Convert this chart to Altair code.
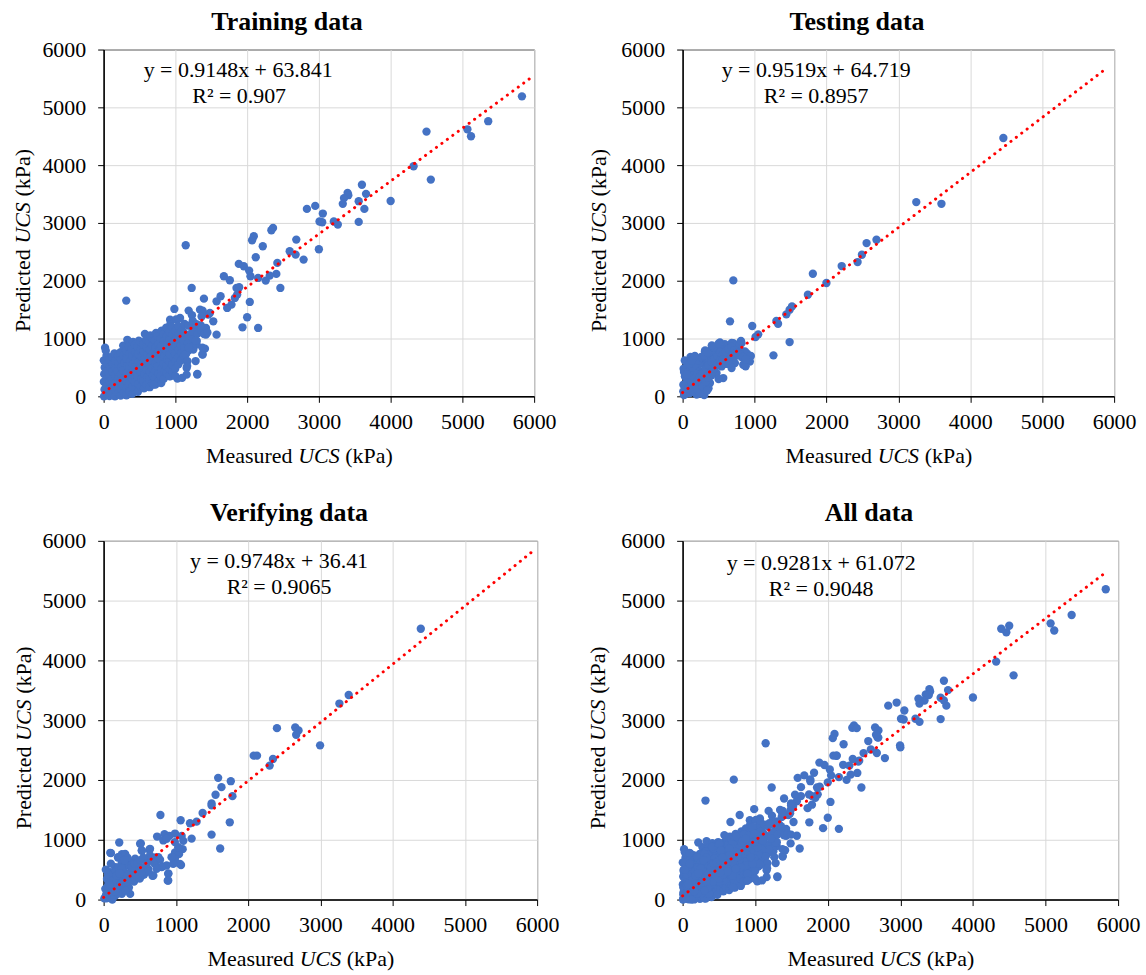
import altair as alt
import pandas as pd

# ---------------- data (kPa) ----------------
train_x = [5830, 5360, 5070, 5120, 4500, 4320, 4560, 4000, 3600, 3400, 3410, 3350, 3333, 3555, 3657,
           3634, 3555, 3208, 3264, 3009, 3046, 3055, 2949, 2833, 3000, 2685, 2593, 2676, 2787, 2361,
           2338, 2093, 2069, 2218, 2120, 2421, 2407, 2463, 2259, 2315, 2153, 2046, 1884, 1954, 2028,
           1852, 1889, 1759, 1676, 1227, 1144, 315, 2037, 2000, 1935, 2153, 1829, 1861, 1782, 1722,
           1630, 1574, 1398, 1574, 1426, 1528, 1481, 1458, 1306, 1028, 926, 1157, 1157, 986, 926,
           1065, 1185, 1231, 1343, 1380, 1287, 1426, 1380, 1412, 1250, 1296, 1194, 1102, 1056, 1148, 1167,
           # dense cluster
           5, 12, 3, 8, 15, 2, 20, 42, 38, 45, 35, 48, 40, 30, 82, 78, 85, 75, 88, 80, 118, 125, 115, 122,
           128, 120, 158, 165, 155, 162, 168, 160, 150, 205, 198, 202, 195, 208, 200, 238, 245, 235, 242,
           248, 240, 236, 282, 275, 285, 278, 288, 280, 272, 318, 325, 315, 322, 328, 320, 312, 330, 362,
           355, 365, 358, 368, 360, 352, 398, 405, 395, 402, 408, 400, 392, 410, 442, 435, 445, 438, 448,
           440, 432, 478, 485, 475, 482, 488, 480, 472, 490, 518, 525, 515, 522, 528, 520, 512, 562, 555,
           565, 558, 568, 560, 552, 575, 598, 605, 595, 602, 608, 600, 592, 642, 635, 645, 638, 648, 640,
           632, 650, 678, 685, 675, 682, 688, 680, 672, 722, 715, 725, 718, 728, 720, 712, 730, 758, 765,
           755, 762, 768, 760, 752, 802, 795, 805, 798, 808, 800, 792, 810, 838, 845, 835, 842, 848, 840,
           832, 882, 875, 885, 878, 888, 880, 872, 918, 925, 915, 922, 928, 920, 912, 930, 962, 955, 965,
           958, 968, 960, 952, 998, 1005, 995, 1002, 1008, 1000, 1010, 1042, 1035, 1045, 1038, 1048, 1040,
           1078, 1085, 1075, 1082, 1088, 1118, 1125, 1115, 1122, 1128, 1182, 1175, 1185, 1178, 1238, 1245,
           1235, 1242, 1298, 1305, 1295, 1362, 1355, 1365, 695, 1000, 1094, 1305, 1141, 1164, 1164, 1282,
           1376, 1376, 1188, 1282, 1399, 1446]
train_y = [5190, 4760, 4620, 4500, 4580, 3980, 3750, 3380, 3660, 3520, 3480, 3430, 3330, 3376, 3503,
           3243, 3018, 3024, 2972, 3024, 3012, 3162, 3295, 3243, 2545, 2712, 2510, 2452, 2366, 2914,
           2874, 2770, 2700, 2597, 2406, 2308, 2118, 1875, 2002, 2089, 2048, 2077, 2291, 2250, 2175,
           1875, 1887, 2008, 2077, 1875, 2614, 1656, 1633, 1368, 1194, 1183, 1702, 1760, 1587, 1529,
           1731, 1644, 1690, 1067, 1067, 1298, 1442, 1413, 387, 306, 346, 490, 375, 1512, 1327,
           1356, 1483, 1402, 1500, 1483, 1206, 1183, 721, 825, 808, 895, 923, 923, 1067, 733, 606,
           # dense cluster
           0, 118, 252, 384, 498, 622, 842, 58, 182, 305, 428, 560, 702, 790, 4, 132, 262, 388, 520, 640,
           38, 172, 300, 432, 558, 680, 2, 102, 228, 362, 488, 618, 742, 58, 182, 312, 438, 572, 700, 12,
           128, 252, 382, 508, 642, 762, 62, 188, 322, 452, 578, 702, 878, 18, 142, 268, 402, 532, 658,
           792, 978, 88, 222, 352, 482, 608, 742, 862, 42, 168, 302, 428, 562, 692, 818, 942, 122, 248,
           382, 512, 638, 772, 898, 78, 212, 342, 468, 602, 732, 858, 962, 172, 298, 432, 558, 692, 818,
           942, 138, 262, 388, 522, 648, 782, 898, 1078, 202, 328, 462, 588, 722, 852, 978, 158, 292, 418,
           552, 678, 812, 938, 1052, 228, 362, 488, 622, 748, 882, 1008, 202, 318, 452, 578, 712, 838, 972,
           1098, 262, 388, 522, 648, 782, 908, 1042, 228, 352, 478, 612, 738, 872, 998, 1138, 302, 428,
           562, 688, 822, 948, 1082, 398, 522, 648, 782, 908, 1042, 1188, 352, 468, 602, 728, 862, 988,
           1112, 1248, 422, 548, 682, 808, 942, 1068, 1202, 478, 612, 738, 872, 998, 1132, 1332, 552, 678,
           812, 938, 1072, 1218, 622, 748, 882, 1008, 1142, 702, 828, 962, 1098, 1252, 792, 918, 1052,
           1222, 852, 998, 1122, 1302, 958, 1082, 1248, 1122, 1228, 1382, 203, 349, 320, 378, 727, 610,
           523, 610, 727, 843, 843, 959, 1076, 1105]

test_x = [4460, 3249, 3599, 2558, 2696, 2493, 2433, 2212, 1811, 2000, 1742, 1521, 1488, 1442, 1304,
          1327, 1488, 1263, 968, 1014, 1051, 705, 659,
          519, 588, 704, 750, 819, 866, 912, 843, 935, 727, 773, 657, 565, 495, 403, 310, 380, 426,
          333, 241, 148, 79, 32, 56, 102, 195, 287, 380, 472, 542, 611, 681, 449, 264, 171, 9, 56, 125,
          195, 287, 357, 472, 565, 657, 796, 773, 889, 110, 14, 65, 428, 313, 406, 520, 949, 876, 498,
          682, 811, 20, 60, 100, 140, 180, 220, 260, 300, 340, 380, 420, 200, 150, 30, 90, 240, 320, 400,
          460, 500, 360, 260, 600, 640, 700, 740, 820, 160, 60, 10, 500,
          40, 80, 120, 160, 200, 240, 280, 320, 360, 400, 440, 480, 520, 560, 600, 640, 680, 720, 760,
          800, 840, 880, 100, 140, 180, 220, 260, 300, 340, 200, 240, 280, 320, 360, 400, 440, 480, 520,
          560, 600, 640, 680, 720, 300, 340, 20, 60, 90, 130, 170]
test_y = [4470, 3360, 3331, 2651, 2709, 2450, 2323, 2254, 2121, 1960, 1758, 1556, 1499, 1418, 1303,
          1256, 939, 709, 1216, 1026, 1072, 2006, 1297,
          931, 902, 920, 890, 920, 776, 718, 546, 603, 575, 718, 661, 316, 805, 833, 776, 718, 575,
          517, 431, 287, 517, 345, 172, 57, 29, 115, 230, 402, 517, 632, 489, 661, 316, 144, 86, 230, 374,
          517, 603, 632, 747, 805, 833, 805, 862, 747, 680, 478, 565, 853, 795, 882, 910, 697, 519, 911,
          922, 957, 20, 120, 200, 90, 250, 180, 220, 300, 380, 450, 500, 380, 420, 620, 380, 560, 420, 360,
          520, 600, 140, 50, 700, 560, 640, 780, 680, 650, 300, 200, 300,
          40, 140, 250, 330, 260, 340, 400, 480, 540, 600, 640, 700, 760, 720, 780, 820, 860, 800, 760,
          720, 680, 640, 420, 500, 560, 620, 680, 700, 760, 120, 60, 170, 250, 320, 420, 480, 560, 620,
          640, 560, 620, 700, 680, 20, 100, 420, 380, 560, 620, 700]

ver_x = [4390, 3392, 3263, 2399, 2652, 2698, 2665, 2996, 2077, 2123, 2344, 2298, 1585, 1760, 1631,
         1549, 1783, 1494, 1494, 1370, 1746, 1494, 1613, 786, 1066, 1195, 1287, 740, 842, 910, 988,
         1080, 1103, 1218, 1094, 988, 1043, 988, 1071, 896, 887, 818, 676, 781, 713, 529, 634, 515,
         216, 101, 253, 198,
         92, 206, 298, 344, 436, 505, 528, 642, 688, 894, 894, 872, 803, 711, 619, 573, 482, 390, 321,
         252, 161, 92, 46, 23, 115, 206, 252, 367, 161, 298, 436, 528, 390, 344, 229, 138, 69, 482, 573,
         619, 688, 757, 986, 1055, 1032, 986, 826, 872, 642, 459, 734, 963, 940, 10, 40, 80, 120, 60,
         180, 260, 300, 350, 420, 500, 560, 620, 200, 150, 30, 100, 280, 400, 330,
         30, 70, 110, 150, 190, 230, 270, 310, 350, 390, 430, 470, 510, 550, 590, 130, 170, 210, 250,
         290, 60, 100, 140, 180, 220, 260, 300, 200, 120, 40, 80, 160, 330, 450, 520]
ver_y = [4530, 3422, 3278, 2867, 2878, 2829, 2757, 2579, 2407, 2407, 2352, 2241, 2036, 1980, 1880,
         1753, 1730, 1608, 1575, 1448, 1292, 1087, 854, 1414, 1326, 1276, 1303, 1054, 1093, 1065, 1104,
         1065, 982, 1020, 843, 788, 760, 621, 577, 438, 316, 555, 399, 666, 704, 815, 832, 937,
         954, 776, 760, 704,
         782, 709, 765, 654, 682, 933, 821, 849, 402, 430, 318, 570, 542, 598, 654, 542, 570, 486, 570,
         626, 542, 458, 346, 179, 207, 235, 95, 95, 67, 318, 346, 402, 346, 402, 402, 346, 291, 458, 486,
         514, 626, 709, 682, 598, 877, 961, 989, 1017, 737, 514, 514, 598, 709, 20, 100, 160, 60, 420,
         300, 180, 250, 200, 300, 350, 420, 470, 500, 250, 500, 600, 480, 600, 700,
         60, 130, 120, 170, 220, 280, 330, 380, 430, 540, 600, 620, 660, 700, 600, 420, 470, 540, 520,
         660, 230, 300, 330, 400, 440, 280, 150, 100, 0, 20, 260, 140, 300, 420, 450]

all_x = train_x + test_x + ver_x
all_y = train_y + test_y + ver_y

# trendline end points (x from 0 to the end of the dotted line)
trend = {
    "Training data": ([0, 5935], [64, 5493], "y = 0.9148x + 63.841", "R² = 0.907"),
    "Testing data": ([0, 5912], [65, 5692], "y = 0.9519x + 64.719", "R² = 0.8957"),
    "Verifying data": ([0, 5951], [36, 5837], "y = 0.9748x + 36.41", "R² = 0.9065"),
    "All data": ([0, 5845], [61, 5486], "y = 0.9281x + 61.072", "R² = 0.9048"),
}

ticks = [0, 1000, 2000, 3000, 4000, 5000, 6000]
BLUE = "#4472C4"
FONT = "Liberation Serif"
FS = 22


def one(v):
    return pd.DataFrame({"t": [v]})


def panel(name, xs, ys, w, h, title_dx, eq_pos, r2_pos, ytitle_dx):
    tx, ty, eq, r2 = trend[name]
    scale = alt.Scale(domain=[0, 6000], nice=False, zero=True)
    xax = alt.Axis(values=ticks, format="d", title=None, labelPadding=9, labelFlush=False,
                   labelOverlap=False, labelFont=FONT, labelFontSize=FS, labelColor="black")
    yax = alt.Axis(values=ticks, format="d", title=None, labelPadding=12, labelFlush=False,
                   labelOverlap=False, labelFont=FONT, labelFontSize=FS, labelColor="black")
    pts = alt.Chart(pd.DataFrame({"x": xs, "y": ys})).mark_circle(
        size=70, opacity=1, color=BLUE
    ).encode(
        x=alt.X("x:Q", scale=scale, axis=xax),
        y=alt.Y("y:Q", scale=scale, axis=yax),
    )
    line = alt.Chart(pd.DataFrame({"x": tx, "y": ty})).mark_line(
        color="#FF0000", strokeWidth=3, strokeDash=[0.1, 6.7], strokeCap="round"
    ).encode(x=alt.X("x:Q", scale=scale, axis=xax), y=alt.Y("y:Q", scale=scale, axis=yax))

    def txt(s, x, y, align="center", italic=False, angle=0, bold=False, size=FS):
        kw = dict(font=FONT, fontSize=size, align=align, baseline="alphabetic", color="black")
        if italic:
            kw["fontStyle"] = "italic"
        if bold:
            kw["fontWeight"] = "bold"
        if angle:
            kw["angle"] = angle
        return alt.Chart(one(s)).mark_text(**kw).encode(
            text="t:N", x=alt.value(x), y=alt.value(y)
        )

    half = 26.5
    cx = w / 2
    cy = h / 2
    layers = [
        pts, line,
        txt(eq, eq_pos[0], eq_pos[1]),
        txt(r2, r2_pos[0], r2_pos[1]),
        txt(name, title_dx, -20, bold=True, size=26),
        txt("Measured", cx - half, h + 67, align="right"),
        txt("UCS", cx, h + 67, italic=True),
        txt("(kPa)", cx + half, h + 67, align="left"),
        txt("Predicted", ytitle_dx, cy + half, align="right", angle=270),
        txt("UCS", ytitle_dx, cy, italic=True, angle=270),
        txt("(kPa)", ytitle_dx, cy - half, align="left", angle=270),
    ]
    return alt.layer(*layers).properties(width=w, height=h)


p1 = panel("Training data", train_x, train_y, 432, 348, 184, (135, 28), (136, 54), -74)
p2 = panel("Testing data", test_x, test_y, 433, 348, 175, (134, 28), (134, 54), -77)
p3 = panel("Verifying data", ver_x, ver_y, 435, 360, 186, (176, 27), (176, 53), -73)
p4 = panel("All data", all_x, all_y, 437, 360, 187, (139, 29), (139, 55), -78)

chart = alt.concat(
    p1, p2, p3, p4, columns=2,
    spacing={"row": 145, "column": 146},
    bounds="flush",
).properties(
    padding={"left": 11, "top": 6, "right": 5, "bottom": 5},
    background="white",
).configure(
    font=FONT
).configure_view(
    stroke="black", strokeWidth=1
).configure_axis(
    grid=True, gridColor="#d9d9d9", gridWidth=1,
    domainColor="black", domainWidth=1.5,
    tickColor="black", tickSize=6, tickWidth=1,
    labelFont=FONT, labelFontSize=FS, labelColor="black",
)

chart.save("out.html", embed_options={"renderer": "svg", "actions": False})
